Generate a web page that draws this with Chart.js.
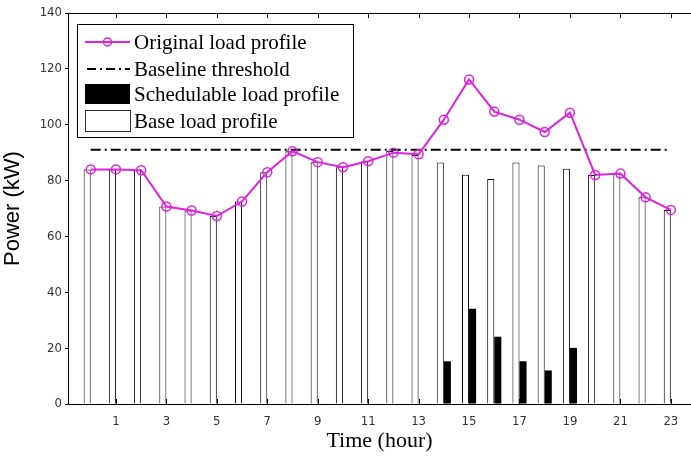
<!DOCTYPE html>
<html>
<head>
<meta charset="utf-8">
<script src="https://cdn.jsdelivr.net/npm/chart.js@4/dist/chart.umd.min.js"></script>
<style>
  html, body { margin: 0; padding: 0; background: #fff; }
  #wrap { width: 691px; height: 456px; position: relative; }
</style>
</head>
<body>
<div id="wrap"><canvas id="loadChart"></canvas></div>
<script>
// Datos horarios de carga (kW)
const hours = [0, 1, 2, 3, 4, 5, 6, 7, 8, 9, 10, 11, 12, 13, 14, 15, 16, 17, 18, 19, 20, 21, 22, 23];
const originalLoad = [84, 84, 83.7, 70.7, 69.3, 67.3, 72.5, 83, 90.5, 86.6, 84.8, 86.9, 90, 89.4,
                      101.8, 116.2, 104.7, 101.8, 97.4, 104.3, 82, 82.5, 74, 69.5];
const baseLoad = [84, 84, 83.7, 70.7, 69.3, 67.3, 72.5, 83, 90.5, 86.6, 84.8, 86.9, 90.6, 89.2,
                  86.5, 82.1, 80.6, 86.5, 85.4, 84.2, 82, 82.5, 74, 69.5];
const schedulableLoad = [0, 0, 0, 0, 0, 0, 0, 0, 0, 0, 0, 0, 0, 0,
                         15.3, 34.1, 24.1, 15.3, 12, 20.1, 0, 0, 0, 0];
const baselineThreshold = 91;
const tickHours = [1, 3, 5, 7, 9, 11, 13, 15, 17, 19, 21, 23];
const yTicks = [0, 20, 40, 60, 80, 100, 120, 140];

const legendLabels = ['Original load profile', 'Baseline threshold', 'Schedulable load profile', 'Base load profile'];

const magenta = '#e020e0';
const tickFont = { family: "'Liberation Sans Narrow', 'DejaVu Sans Condensed', 'Liberation Sans', sans-serif", size: 13 };

// Marcas de eje hacia adentro y borde superior
const frameTicks = {
    id: 'frameTicks',
    afterDatasetsDraw(chart) {
        const { ctx, chartArea, scales } = chart;
        ctx.save();
        ctx.strokeStyle = '#000';
        ctx.lineWidth = 1;
        ctx.beginPath();
        ctx.moveTo(chartArea.left, chartArea.top + 0.5);
        ctx.lineTo(chartArea.right, chartArea.top + 0.5);
        tickHours.forEach(h => {
            const x = Math.round(scales.x.getPixelForValue(h)) + 0.5;
            ctx.moveTo(x, chartArea.bottom);
            ctx.lineTo(x, chartArea.bottom - 5);
            ctx.moveTo(x, chartArea.top);
            ctx.lineTo(x, chartArea.top + 5);
        });
        ctx.stroke();
        ctx.restore();
    }
};

// Leyenda dibujada dentro del area del grafico
const boxLegend = {
    id: 'boxLegend',
    afterDraw(chart) {
        const ctx = chart.ctx;
        const box = { x: 77, y: 24, w: 276, h: 113 };
        const rows = [42, 69, 94, 121];
        const symL = 85, symR = 130, textX = 134;
        ctx.save();
        ctx.fillStyle = '#fff';
        ctx.fillRect(box.x, box.y, box.w, box.h);
        ctx.strokeStyle = '#000';
        ctx.lineWidth = 1;
        ctx.strokeRect(box.x + 0.5, box.y + 0.5, box.w, box.h);

        // linea con marcador
        ctx.strokeStyle = magenta;
        ctx.lineWidth = 2;
        ctx.beginPath();
        ctx.moveTo(symL, rows[0]);
        ctx.lineTo(symR, rows[0]);
        ctx.stroke();
        ctx.lineWidth = 1.5;
        ctx.beginPath();
        ctx.arc((symL + symR) / 2, rows[0], 4, 0, Math.PI * 2);
        ctx.stroke();

        // linea punto-raya
        ctx.strokeStyle = '#000';
        ctx.lineWidth = 2;
        ctx.setLineDash([9, 4, 2, 4]);
        ctx.beginPath();
        ctx.moveTo(symL + 2, rows[1]);
        ctx.lineTo(symR, rows[1]);
        ctx.stroke();
        ctx.setLineDash([]);

        // rectangulos
        ctx.fillStyle = '#000';
        ctx.fillRect(symL, rows[2] - 10, symR - symL, 20);
        ctx.lineWidth = 1;
        ctx.strokeStyle = '#333';
        ctx.strokeRect(symL + 0.5, rows[3] - 10.5, symR - symL, 21);

        ctx.fillStyle = '#000';
        ctx.font = "21px 'Liberation Serif', serif";
        ctx.textBaseline = 'middle';
        legendLabels.forEach((t, i) => ctx.fillText(t, textX, rows[i] + 1));
        ctx.restore();
    }
};

const ctx = document.getElementById('loadChart').getContext('2d');
const loadChart = new Chart(ctx, {
    data: {
        labels: hours,
        datasets: [
            {
                type: 'line',
                label: legendLabels[0],
                data: originalLoad,
                borderColor: magenta,
                borderWidth: 2,
                pointRadius: 4.5,
                pointBorderWidth: 1.5,
                pointBackgroundColor: 'rgba(0,0,0,0)',
                pointBorderColor: magenta,
                tension: 0
            },
            {
                type: 'line',
                label: legendLabels[1],
                data: [{ x: hours[0], y: baselineThreshold }, { x: hours[hours.length - 1], y: baselineThreshold }],
                borderColor: '#000',
                borderWidth: 2,
                borderDash: [10, 4, 2, 4],
                pointRadius: 0
            },
            {
                type: 'bar',
                label: legendLabels[3],
                data: baseLoad,
                backgroundColor: '#fff',
                borderColor: '#000',
                borderWidth: 1,
                categoryPercentage: 0.56,
                barPercentage: 1
            },
            {
                type: 'bar',
                label: legendLabels[2],
                data: schedulableLoad,
                backgroundColor: '#000',
                borderWidth: 0,
                categoryPercentage: 0.56,
                barPercentage: 1
            }
        ]
    },
    options: {
        responsive: true,
        maintainAspectRatio: false,
        animation: false,
        layout: { autoPadding: false, padding: { top: 13, right: 0, left: 0, bottom: 0 } },
        plugins: {
            legend: { display: false },
            tooltip: { enabled: false }
        },
        scales: {
            x: {
                type: 'linear',
                offset: false,
                min: -0.9,
                max: 23.8,
                afterBuildTicks: (s) => { s.ticks = tickHours.map(v => ({ value: v })); },
                afterFit: (s) => { s.height = 52; s.paddingLeft = 0; s.paddingRight = 0; },
                grid: { display: false },
                border: { display: true, color: '#000', width: 1 },
                ticks: { color: '#333', font: tickFont, padding: 2, maxRotation: 0 },
                title: {
                    display: true,
                    text: 'Time (hour)',
                    color: '#000',
                    font: { family: "'Liberation Serif', serif", size: 22 },
                    padding: { top: 0, bottom: 2 }
                }
            },
            y: {
                min: 0,
                max: 140,
                afterBuildTicks: (s) => { s.ticks = yTicks.map(v => ({ value: v })); },
                afterFit: (s) => { s.width = 68; },
                grid: { drawOnChartArea: false, drawTicks: true, tickLength: 3, color: '#000' },
                border: { display: true, color: '#000', width: 1 },
                ticks: { color: '#333', font: tickFont, padding: 3 },
                title: {
                    display: true,
                    text: 'Power (kW)',
                    color: '#000',
                    font: { family: "'Liberation Sans', Arial, sans-serif", size: 22 },
                    padding: { top: 0, bottom: 0 }
                }
            }
        }
    },
    plugins: [frameTicks, boxLegend]
});
</script>
</body>
</html>
